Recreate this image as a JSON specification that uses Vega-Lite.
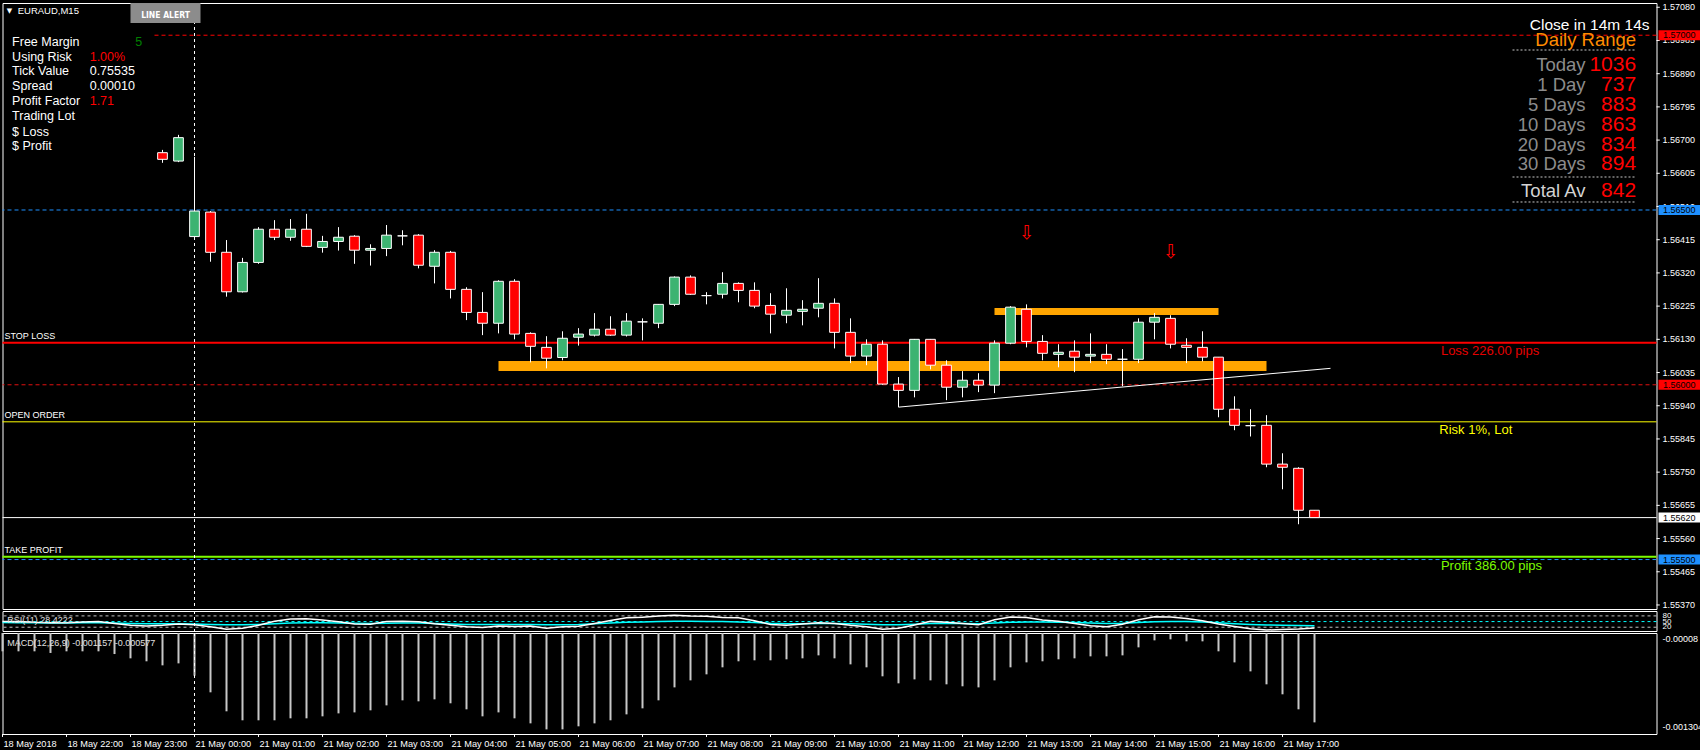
{
"$schema": "https://vega.github.io/schema/vega-lite/v6.json",
"background": "#000000",
"padding": {"left": -1.5, "top": 2, "right": 0, "bottom": 0},
"spacing": 2,
"bounds": "flush",
"config": {
 "view": {"stroke": "#FFFFFF", "strokeWidth": 1},
 "scale": {"continuousPadding": 0},
 "text": {"font": "Liberation Sans"}
},
"resolve": {"scale": {"y": "independent"}},
"datasets": {
 "candles": [
  {"k":-2,"o":1.56664,"h":1.56672,"l":1.56635,"c":1.56645},
  {"k":-1,"o":1.56640,"h":1.56715,"l":1.56637,"c":1.56707},
  {"k":0,"o":1.56424,"h":1.56652,"l":1.56417,"c":1.56497},
  {"k":1,"o":1.56494,"h":1.56497,"l":1.56352,"c":1.56379},
  {"k":2,"o":1.56379,"h":1.56414,"l":1.56252,"c":1.56266},
  {"k":3,"o":1.56266,"h":1.56363,"l":1.56264,"c":1.56350},
  {"k":4,"o":1.56350,"h":1.56451,"l":1.56346,"c":1.56445},
  {"k":5,"o":1.56445,"h":1.56471,"l":1.56414,"c":1.56422},
  {"k":6,"o":1.56422,"h":1.56474,"l":1.56412,"c":1.56445},
  {"k":7,"o":1.56445,"h":1.56489,"l":1.56394,"c":1.56396},
  {"k":8,"o":1.56393,"h":1.56426,"l":1.56378,"c":1.56410},
  {"k":9,"o":1.56410,"h":1.56451,"l":1.56384,"c":1.56422},
  {"k":10,"o":1.56425,"h":1.56428,"l":1.56346,"c":1.56385},
  {"k":11,"o":1.56385,"h":1.56402,"l":1.56341,"c":1.56390},
  {"k":12,"o":1.56390,"h":1.56457,"l":1.56368,"c":1.56428},
  {"k":13,"o":1.56426,"h":1.56442,"l":1.56399,"c":1.56426},
  {"k":14,"o":1.56428,"h":1.56431,"l":1.56333,"c":1.56342},
  {"k":15,"o":1.56339,"h":1.56385,"l":1.56290,"c":1.56379},
  {"k":16,"o":1.56379,"h":1.56383,"l":1.56247,"c":1.56273},
  {"k":17,"o":1.56273,"h":1.56279,"l":1.56185,"c":1.56207},
  {"k":18,"o":1.56207,"h":1.56265,"l":1.56142,"c":1.56176},
  {"k":19,"o":1.56176,"h":1.56299,"l":1.56147,"c":1.56296},
  {"k":20,"o":1.56296,"h":1.56302,"l":1.56130,"c":1.56145},
  {"k":21,"o":1.56147,"h":1.56150,"l":1.56064,"c":1.56110},
  {"k":22,"o":1.56107,"h":1.56139,"l":1.56047,"c":1.56076},
  {"k":23,"o":1.56078,"h":1.56153,"l":1.56070,"c":1.56133},
  {"k":24,"o":1.56136,"h":1.56162,"l":1.56112,"c":1.56145},
  {"k":25,"o":1.56142,"h":1.56205,"l":1.56138,"c":1.56159},
  {"k":26,"o":1.56159,"h":1.56196,"l":1.56140,"c":1.56142},
  {"k":27,"o":1.56142,"h":1.56205,"l":1.56138,"c":1.56182},
  {"k":28,"o":1.56180,"h":1.56190,"l":1.56127,"c":1.56180},
  {"k":29,"o":1.56176,"h":1.56231,"l":1.56162,"c":1.56230},
  {"k":30,"o":1.56230,"h":1.56310,"l":1.56225,"c":1.56308},
  {"k":31,"o":1.56308,"h":1.56313,"l":1.56257,"c":1.56259},
  {"k":32,"o":1.56255,"h":1.56265,"l":1.56230,"c":1.56255},
  {"k":33,"o":1.56259,"h":1.56322,"l":1.56247,"c":1.56290},
  {"k":34,"o":1.56290,"h":1.56293,"l":1.56236,"c":1.56270},
  {"k":35,"o":1.56270,"h":1.56293,"l":1.56219,"c":1.56225},
  {"k":36,"o":1.56227,"h":1.56262,"l":1.56147,"c":1.56202},
  {"k":37,"o":1.56199,"h":1.56276,"l":1.56176,"c":1.56213},
  {"k":38,"o":1.56210,"h":1.56242,"l":1.56170,"c":1.56216},
  {"k":39,"o":1.56219,"h":1.56305,"l":1.56193,"c":1.56233},
  {"k":40,"o":1.56233,"h":1.56247,"l":1.56104,"c":1.56150},
  {"k":41,"o":1.56150,"h":1.56190,"l":1.56062,"c":1.56082},
  {"k":42,"o":1.56082,"h":1.56130,"l":1.56056,"c":1.56116},
  {"k":43,"o":1.56116,"h":1.56127,"l":1.56000,"c":1.56002},
  {"k":44,"o":1.56002,"h":1.56022,"l":1.55936,"c":1.55984},
  {"k":45,"o":1.55984,"h":1.56131,"l":1.55964,"c":1.56130},
  {"k":46,"o":1.56130,"h":1.56131,"l":1.56044,"c":1.56056},
  {"k":47,"o":1.56056,"h":1.56070,"l":1.55956,"c":1.55993},
  {"k":48,"o":1.55993,"h":1.56039,"l":1.55964,"c":1.56013},
  {"k":49,"o":1.56013,"h":1.56033,"l":1.55979,"c":1.55999},
  {"k":50,"o":1.55999,"h":1.56127,"l":1.55976,"c":1.56119},
  {"k":51,"o":1.56119,"h":1.56225,"l":1.56116,"c":1.56222},
  {"k":52,"o":1.56216,"h":1.56230,"l":1.56107,"c":1.56124},
  {"k":53,"o":1.56124,"h":1.56142,"l":1.56070,"c":1.56090},
  {"k":54,"o":1.56087,"h":1.56116,"l":1.56050,"c":1.56093},
  {"k":55,"o":1.56096,"h":1.56127,"l":1.56036,"c":1.56079},
  {"k":56,"o":1.56082,"h":1.56147,"l":1.56062,"c":1.56087},
  {"k":57,"o":1.56087,"h":1.56116,"l":1.56059,"c":1.56073},
  {"k":58,"o":1.56073,"h":1.56102,"l":1.55996,"c":1.56073},
  {"k":59,"o":1.56073,"h":1.56190,"l":1.56062,"c":1.56179},
  {"k":60,"o":1.56179,"h":1.56205,"l":1.56130,"c":1.56193},
  {"k":61,"o":1.56190,"h":1.56199,"l":1.56104,"c":1.56116},
  {"k":62,"o":1.56113,"h":1.56133,"l":1.56062,"c":1.56107},
  {"k":63,"o":1.56107,"h":1.56153,"l":1.56067,"c":1.56079},
  {"k":64,"o":1.56079,"h":1.56079,"l":1.55907,"c":1.55930},
  {"k":65,"o":1.55930,"h":1.55967,"l":1.55870,"c":1.55884},
  {"k":66,"o":1.55883,"h":1.55930,"l":1.55852,"c":1.55883},
  {"k":67,"o":1.55884,"h":1.55913,"l":1.55764,"c":1.55773},
  {"k":68,"o":1.55773,"h":1.55804,"l":1.55701,"c":1.55764},
  {"k":69,"o":1.55761,"h":1.55764,"l":1.55601,"c":1.55641},
  {"k":70,"o":1.55641,"h":1.55641,"l":1.55620,"c":1.55620}
 ],
 "levels": [
  {"name":"alert","price":1.57},
  {"name":"blue","price":1.565},
  {"name":"stop","price":1.5612,"label":"STOP LOSS"},
  {"name":"round","price":1.56},
  {"name":"open","price":1.55894,"label":"OPEN ORDER"},
  {"name":"bid","price":1.5562},
  {"name":"take","price":1.55508,"label":"TAKE PROFIT"},
  {"name":"blue2","price":1.555}
 ],
 "priceTicks": [
  {"price":1.5708},{"price":1.56985},{"price":1.5689},{"price":1.56795},{"price":1.567},{"price":1.56605},{"price":1.5651},
  {"price":1.56415},{"price":1.5632},{"price":1.56225},{"price":1.5613},{"price":1.56035},{"price":1.5594},{"price":1.55845},
  {"price":1.5575},{"price":1.55655},{"price":1.5556},{"price":1.55465},{"price":1.5537}
 ],
 "zones": [
  {"k":19,"k2":67,"p":1.560681,"p2":1.560394},
  {"k":50,"k2":64,"p":1.562197,"p2":1.561996}
 ],
 "trend": [{"k":44,"p":1.55936},{"k":71,"p":1.56047}],
 "fractals": [{"k":52,"p":1.56434},{"k":61,"p":1.56381}],
 "sep": [{"k":0}],
 "button": [{"k":-4,"k2":0.375,"p":1.570922,"p2":1.57035,"pm":1.570577,"km":-1.8125,"label":"LINE ALERT"}],
 "title": [{"text":"EURAUD,M15","p":1.5707}],
 "info": [
  {"label":"Free Margin","value":"5","p":1.569813},
  {"label":"Using Risk","value":"1.00%","p":1.569384},
  {"label":"Tick Value","value":"0.75535","p":1.568967},
  {"label":"Spread","value":"0.00010","p":1.568546},
  {"label":"Profit Factor","value":"1.71","p":1.568109},
  {"label":"Trading Lot","value":"","p":1.56768},
  {"label":"$ Loss","value":"","p":1.567239},
  {"label":"$ Profit","value":"","p":1.566822}
 ],
 "range": [
  {"label":"Today","value":"1036","p":1.569147},
  {"label":"1 Day","value":"737","p":1.568575},
  {"label":"5 Days","value":"883","p":1.568003},
  {"label":"10 Days","value":"863","p":1.567431},
  {"label":"20 Days","value":"834","p":1.566859},
  {"label":"30 Days","value":"894","p":1.566307},
  {"label":"Total Av","value":"842","p":1.565543}
 ],
 "headers": [{"text":"Close in 14m 14s","p":1.570291},{"text":"Daily Range","p":1.569876}],
 "rangeLines": [{"p":1.569577},{"p":1.565944},{"p":1.565229}],
 "notes": [{"text":"Loss 226.00 pips","p":1.560967},{"text":"Risk 1%, Lot","p":1.558708},{"text":"Profit 386.00 pips","p":1.554827}],
 "rsiLevels": [{"level":80},{"level":50},{"level":20}],
 "rsi": [
  {"k":-12,"fast":50,"slow":45},{"k":-11,"fast":50,"slow":44},{"k":-10,"fast":46,"slow":44},{"k":-9,"fast":44,"slow":43},
  {"k":-8,"fast":44,"slow":43},{"k":-7,"fast":48,"slow":44},{"k":-6,"fast":50,"slow":44},{"k":-5,"fast":40,"slow":42},
  {"k":-4,"fast":30,"slow":40},{"k":-3,"fast":26,"slow":38},{"k":-2,"fast":30,"slow":38},{"k":-1,"fast":37,"slow":38},
  {"k":0,"fast":33,"slow":37},{"k":1,"fast":23,"slow":35},{"k":2,"fast":9,"slow":33},{"k":3,"fast":14,"slow":33},
  {"k":4,"fast":30,"slow":35},{"k":5,"fast":52,"slow":38},{"k":6,"fast":64,"slow":42},{"k":7,"fast":65,"slow":44},
  {"k":8,"fast":58,"slow":44},{"k":9,"fast":49,"slow":43},{"k":10,"fast":37,"slow":41},{"k":11,"fast":36,"slow":40},
  {"k":12,"fast":50,"slow":41},{"k":13,"fast":52,"slow":42},{"k":14,"fast":49,"slow":42},{"k":15,"fast":38,"slow":40},
  {"k":16,"fast":30,"slow":37},{"k":17,"fast":23,"slow":35},{"k":18,"fast":18,"slow":34},{"k":19,"fast":26,"slow":35},
  {"k":20,"fast":24,"slow":35},{"k":21,"fast":26,"slow":35},{"k":22,"fast":14,"slow":33},{"k":23,"fast":22,"slow":33},
  {"k":24,"fast":25,"slow":35},{"k":25,"fast":40,"slow":39},{"k":26,"fast":56,"slow":43},{"k":27,"fast":70,"slow":46},
  {"k":28,"fast":73,"slow":48},{"k":29,"fast":80,"slow":50},{"k":30,"fast":84,"slow":52},{"k":31,"fast":79,"slow":52},
  {"k":32,"fast":78,"slow":51},{"k":33,"fast":72,"slow":50},{"k":34,"fast":70,"slow":48},{"k":35,"fast":54,"slow":45},
  {"k":36,"fast":34,"slow":41},{"k":37,"fast":30,"slow":39},{"k":38,"fast":37,"slow":39},{"k":39,"fast":44,"slow":40},
  {"k":40,"fast":40,"slow":40},{"k":41,"fast":30,"slow":38},{"k":42,"fast":23,"slow":36},{"k":43,"fast":9,"slow":33},
  {"k":44,"fast":14,"slow":33},{"k":45,"fast":32,"slow":36},{"k":46,"fast":51,"slow":40},{"k":47,"fast":47,"slow":41},
  {"k":48,"fast":40,"slow":40},{"k":49,"fast":33,"slow":39},{"k":50,"fast":60,"slow":42},{"k":51,"fast":74,"slow":46},
  {"k":52,"fast":72,"slow":48},{"k":53,"fast":58,"slow":48},{"k":54,"fast":52,"slow":47},{"k":55,"fast":40,"slow":45},
  {"k":56,"fast":28,"slow":42},{"k":57,"fast":23,"slow":40},{"k":58,"fast":36,"slow":41},{"k":59,"fast":60,"slow":45},
  {"k":60,"fast":75,"slow":49},{"k":61,"fast":74,"slow":50},{"k":62,"fast":66,"slow":50},{"k":63,"fast":54,"slow":48},
  {"k":64,"fast":37,"slow":44},{"k":65,"fast":24,"slow":39},{"k":66,"fast":12,"slow":35},{"k":67,"fast":5,"slow":32},
  {"k":68,"fast":8,"slow":30},{"k":69,"fast":10,"slow":29},{"k":70,"fast":16,"slow":28}
 ],
 "macd": [
  {"k":-12,"v":-0.000302},{"k":-11,"v":-0.000302},{"k":-10,"v":-0.000302},{"k":-9,"v":-0.000322},
  {"k":-8,"v":-0.000302},{"k":-7,"v":-0.000302},{"k":-6,"v":-0.000302},{"k":-5,"v":-0.000335},
  {"k":-4,"v":-0.000387},{"k":-3,"v":-0.000423},{"k":-2,"v":-0.000472},{"k":-1,"v":-0.000448},
  {"k":0,"v":-0.000597},{"k":1,"v":-0.000799},{"k":2,"v":-0.001029},{"k":3,"v":-0.001138},
  {"k":4,"v":-0.001138},{"k":5,"v":-0.001138},{"k":6,"v":-0.001114},{"k":7,"v":-0.001114},
  {"k":8,"v":-0.00109},{"k":9,"v":-0.001054},{"k":10,"v":-0.001042},{"k":11,"v":-0.001017},
  {"k":12,"v":-0.000957},{"k":13,"v":-0.000896},{"k":14,"v":-0.000908},{"k":15,"v":-0.000884},
  {"k":16,"v":-0.000932},{"k":17,"v":-0.001005},{"k":18,"v":-0.00109},{"k":19,"v":-0.001042},
  {"k":20,"v":-0.001114},{"k":21,"v":-0.001175},{"k":22,"v":-0.001248},{"k":23,"v":-0.001248},
  {"k":24,"v":-0.001211},{"k":25,"v":-0.001175},{"k":26,"v":-0.001138},{"k":27,"v":-0.001066},
  {"k":28,"v":-0.000993},{"k":29,"v":-0.000896},{"k":30,"v":-0.000739},{"k":31,"v":-0.000654},
  {"k":32,"v":-0.000581},{"k":33,"v":-0.000496},{"k":34,"v":-0.000423},{"k":35,"v":-0.000411},
  {"k":36,"v":-0.000411},{"k":37,"v":-0.000399},{"k":38,"v":-0.000387},{"k":39,"v":-0.000351},
  {"k":40,"v":-0.000387},{"k":41,"v":-0.00046},{"k":42,"v":-0.000496},{"k":43,"v":-0.000605},
  {"k":44,"v":-0.00069},{"k":45,"v":-0.000642},{"k":46,"v":-0.000654},{"k":47,"v":-0.000702},
  {"k":48,"v":-0.000726},{"k":49,"v":-0.000739},{"k":50,"v":-0.000654},{"k":51,"v":-0.000496},
  {"k":52,"v":-0.000436},{"k":53,"v":-0.000423},{"k":54,"v":-0.000399},{"k":55,"v":-0.000387},
  {"k":56,"v":-0.000363},{"k":57,"v":-0.000363},{"k":58,"v":-0.000351},{"k":59,"v":-0.000254},
  {"k":60,"v":-0.000169},{"k":61,"v":-0.000157},{"k":62,"v":-0.000181},{"k":63,"v":-0.000181},
  {"k":64,"v":-0.000302},{"k":65,"v":-0.000436},{"k":66,"v":-0.000545},{"k":67,"v":-0.000702},
  {"k":68,"v":-0.000823},{"k":69,"v":-0.001005},{"k":70,"v":-0.001163}
 ],
 "macdScale": [{"v":-0.00008,"label":"-0.00008","end":"top"},{"v":-0.001304,"label":"-0.001304","end":"bottom"}],
 "hours": [
  {"k":-12,"label":"18 May 2018"},{"k":-8,"label":"18 May 22:00"},{"k":-4,"label":"18 May 23:00"},
  {"k":0,"label":"21 May 00:00"},{"k":4,"label":"21 May 01:00"},{"k":8,"label":"21 May 02:00"},{"k":12,"label":"21 May 03:00"},
  {"k":16,"label":"21 May 04:00"},{"k":20,"label":"21 May 05:00"},{"k":24,"label":"21 May 06:00"},{"k":28,"label":"21 May 07:00"},
  {"k":32,"label":"21 May 08:00"},{"k":36,"label":"21 May 09:00"},{"k":40,"label":"21 May 10:00"},{"k":44,"label":"21 May 11:00"},
  {"k":48,"label":"21 May 12:00"},{"k":52,"label":"21 May 13:00"},{"k":56,"label":"21 May 14:00"},{"k":60,"label":"21 May 15:00"},
  {"k":64,"label":"21 May 16:00"},{"k":68,"label":"21 May 17:00"}
 ],
 "panelLabels": [{"panel":"rsi","text":"RSI(11) 28.4222","v":58},{"panel":"macd","text":"MACD(12,26,9) -0.001157 -0.000577","v":-0.000198}]
},
"vconcat": [
 {
  "width": 1654, "height": 606,
  "layer": [
   {"data": {"name": "levels"}, "transform": [{"filter": "datum.name == 'blue' || datum.name == 'blue2'"}],
    "mark": {"type": "rule", "color": "#1E90FF", "strokeDash": [4, 3]},
    "encoding": {"y": {"field": "price", "type": "quantitative", "scale": {"domain": [1.553585, 1.570922], "nice": false, "zero": false, "padding": 0}, "axis": null}}},
   {"data": {"name": "levels"}, "transform": [{"filter": "datum.name == 'alert'"}],
    "mark": {"type": "rule", "color": "#FF0000", "strokeDash": [4, 3]},
    "encoding": {"x": {"datum": -2.5, "type": "quantitative", "scale": {"domain": [-12, 91.375], "nice": false, "zero": false, "padding": 0}, "axis": null}, "x2": {"datum": 91.375},
      "y": {"field": "price", "type": "quantitative", "axis": null}}},
   {"data": {"name": "levels"}, "transform": [{"filter": "datum.name == 'round'"}],
    "mark": {"type": "rule", "color": "#E01010", "strokeDash": [4, 3]},
    "encoding": {"y": {"field": "price", "type": "quantitative", "axis": null}}},
   {"data": {"name": "levels"}, "transform": [{"filter": "datum.name == 'stop'"}],
    "mark": {"type": "rule", "color": "#FF0000", "strokeWidth": 2},
    "encoding": {"y": {"field": "price", "type": "quantitative", "axis": null}}},
   {"data": {"name": "levels"}, "transform": [{"filter": "datum.name == 'open'"}],
    "mark": {"type": "rule", "color": "#FFFF00", "strokeWidth": 1},
    "encoding": {"y": {"field": "price", "type": "quantitative", "axis": null}}},
   {"data": {"name": "levels"}, "transform": [{"filter": "datum.name == 'bid'"}],
    "mark": {"type": "rule", "color": "#FFFFFF", "strokeWidth": 1},
    "encoding": {"y": {"field": "price", "type": "quantitative", "axis": null}}},
   {"data": {"name": "levels"}, "transform": [{"filter": "datum.name == 'take'"}],
    "mark": {"type": "rule", "color": "#7CFC00", "strokeWidth": 2},
    "encoding": {"y": {"field": "price", "type": "quantitative", "axis": null}}},
   {"data": {"name": "zones"},
    "mark": {"type": "rect", "color": "#FFA500"},
    "encoding": {"x": {"field": "k", "type": "quantitative", "axis": null}, "x2": {"field": "k2"},
      "y": {"field": "p", "type": "quantitative", "axis": null}, "y2": {"field": "p2"}}},
   {"data": {"name": "sep"},
    "mark": {"type": "rule", "color": "#FFFFFF", "strokeDash": [3, 3]},
    "encoding": {"x": {"field": "k", "type": "quantitative", "axis": null}}},
   {"data": {"name": "candles"},
    "mark": {"type": "rule", "color": "#FFFFFF", "strokeWidth": 1},
    "encoding": {"x": {"field": "k", "type": "quantitative", "axis": null},
      "y": {"field": "l", "type": "quantitative", "axis": null}, "y2": {"field": "h"}}},
   {"data": {"name": "candles"},
    "mark": {"type": "bar", "width": 9.7, "stroke": "#FFFFFF", "strokeWidth": 1},
    "encoding": {"x": {"field": "k", "type": "quantitative", "scale": {"padding": 0}, "axis": null},
      "y": {"field": "o", "type": "quantitative", "axis": null}, "y2": {"field": "c"},
      "fill": {"condition": [{"test": "datum.c > datum.o", "value": "#3CB371"}, {"test": "datum.c < datum.o", "value": "#FF0000"}], "value": "#FFFFFF"}}},
   {"data": {"name": "trend"},
    "mark": {"type": "line", "color": "#FFFFFF", "strokeWidth": 1},
    "encoding": {"x": {"field": "k", "type": "quantitative", "axis": null},
      "y": {"field": "p", "type": "quantitative", "axis": null}}},
   {"data": {"name": "fractals"},
    "mark": {"type": "text", "text": "⇩", "font": "DejaVu Sans", "fontSize": 19, "color": "#FF0000", "baseline": "middle", "align": "center"},
    "encoding": {"x": {"field": "k", "type": "quantitative", "axis": null},
      "y": {"field": "p", "type": "quantitative", "axis": null}}},
   {"data": {"name": "button"},
    "mark": {"type": "rect", "color": "#8C8C8C"},
    "encoding": {"x": {"field": "k", "type": "quantitative", "axis": null}, "x2": {"field": "k2"},
      "y": {"field": "p", "type": "quantitative", "axis": null}, "y2": {"field": "p2"}}},
   {"data": {"name": "button"},
    "mark": {"type": "text", "font": "DejaVu Sans Condensed", "fontWeight": "bold", "fontSize": 8.5, "color": "#FFFFFF", "align": "center", "baseline": "middle"},
    "encoding": {"x": {"field": "km", "type": "quantitative", "axis": null},
      "y": {"field": "pm", "type": "quantitative", "axis": null}, "text": {"field": "label"}}},
   {"data": {"name": "title"},
    "mark": {"type": "text", "fontSize": 9.5, "color": "#FFFFFF", "align": "left", "baseline": "middle"},
    "encoding": {"x": {"datum": -11.05, "type": "quantitative", "axis": null},
      "y": {"field": "p", "type": "quantitative", "axis": null}, "text": {"field": "text"}}},
   {"data": {"name": "title"},
    "mark": {"type": "text", "text": "▼", "font": "DejaVu Sans", "fontSize": 7, "color": "#FFFFFF", "align": "center", "baseline": "middle"},
    "encoding": {"x": {"datum": -11.56, "type": "quantitative", "axis": null},
      "y": {"field": "p", "type": "quantitative", "axis": null}}},
   {"data": {"name": "info"},
    "mark": {"type": "text", "fontSize": 12.5, "color": "#FFFFFF", "align": "left", "baseline": "middle"},
    "encoding": {"x": {"datum": -11.4, "type": "quantitative", "axis": null},
      "y": {"field": "p", "type": "quantitative", "axis": null}, "text": {"field": "label"}}},
   {"data": {"name": "info"}, "transform": [{"filter": "datum.label == 'Tick Value' || datum.label == 'Spread'"}],
    "mark": {"type": "text", "fontSize": 12.5, "color": "#FFFFFF", "align": "left", "baseline": "middle"},
    "encoding": {"x": {"datum": -6.55, "type": "quantitative", "axis": null},
      "y": {"field": "p", "type": "quantitative", "axis": null}, "text": {"field": "value"}}},
   {"data": {"name": "info"}, "transform": [{"filter": "datum.label == 'Using Risk' || datum.label == 'Profit Factor'"}],
    "mark": {"type": "text", "fontSize": 12.5, "color": "#FF0000", "align": "left", "baseline": "middle"},
    "encoding": {"x": {"datum": -6.55, "type": "quantitative", "axis": null},
      "y": {"field": "p", "type": "quantitative", "axis": null}, "text": {"field": "value"}}},
   {"data": {"name": "info"}, "transform": [{"filter": "datum.label == 'Free Margin'"}],
    "mark": {"type": "text", "fontSize": 12.5, "color": "#008000", "align": "left", "baseline": "middle"},
    "encoding": {"x": {"datum": -3.7, "type": "quantitative", "axis": null},
      "y": {"field": "p", "type": "quantitative", "axis": null}, "text": {"field": "value"}}},
   {"data": {"name": "headers"}, "transform": [{"filter": "datum.text == 'Close in 14m 14s'"}],
    "mark": {"type": "text", "fontSize": 15.5, "color": "#FFFFFF", "align": "right", "baseline": "middle"},
    "encoding": {"x": {"datum": 90.94, "type": "quantitative", "axis": null},
      "y": {"field": "p", "type": "quantitative", "axis": null}, "text": {"field": "text"}}},
   {"data": {"name": "headers"}, "transform": [{"filter": "datum.text == 'Daily Range'"}],
    "mark": {"type": "text", "fontSize": 18.5, "color": "#FF8C00", "align": "right", "baseline": "middle"},
    "encoding": {"x": {"datum": 90.1, "type": "quantitative", "axis": null},
      "y": {"field": "p", "type": "quantitative", "axis": null}, "text": {"field": "text"}}},
   {"data": {"name": "rangeLines"},
    "mark": {"type": "rule", "color": "#C8C8C8", "strokeDash": [2, 2]},
    "encoding": {"x": {"datum": 82.375, "type": "quantitative", "axis": null}, "x2": {"datum": 90.1},
      "y": {"field": "p", "type": "quantitative", "axis": null}}},
   {"data": {"name": "range"}, "transform": [{"filter": "datum.label != 'Total Av'"}],
    "mark": {"type": "text", "fontSize": 18.5, "color": "#8C8C8C", "align": "right", "baseline": "middle"},
    "encoding": {"x": {"datum": 86.94, "type": "quantitative", "axis": null},
      "y": {"field": "p", "type": "quantitative", "axis": null}, "text": {"field": "label"}}},
   {"data": {"name": "range"}, "transform": [{"filter": "datum.label == 'Total Av'"}],
    "mark": {"type": "text", "fontSize": 18.5, "color": "#D3D3D3", "align": "right", "baseline": "middle"},
    "encoding": {"x": {"datum": 86.94, "type": "quantitative", "axis": null},
      "y": {"field": "p", "type": "quantitative", "axis": null}, "text": {"field": "label"}}},
   {"data": {"name": "range"},
    "mark": {"type": "text", "fontSize": 21, "color": "#FF0000", "align": "right", "baseline": "middle"},
    "encoding": {"x": {"datum": 90.1, "type": "quantitative", "axis": null},
      "y": {"field": "p", "type": "quantitative", "axis": null}, "text": {"field": "value"}}},
   {"data": {"name": "levels"}, "transform": [{"filter": "isValid(datum.label)"}],
    "mark": {"type": "text", "fontSize": 9, "color": "#FFFFFF", "align": "left", "baseline": "bottom", "dy": -2},
    "encoding": {"x": {"datum": -11.875, "type": "quantitative", "axis": null},
      "y": {"field": "price", "type": "quantitative", "axis": null}, "text": {"field": "label"}}},
   {"data": {"name": "notes"}, "transform": [{"filter": "datum.text == 'Loss 226.00 pips'"}],
    "mark": {"type": "text", "fontSize": 13, "color": "#E60000", "align": "left", "baseline": "middle"},
    "encoding": {"x": {"datum": 77.9, "type": "quantitative", "axis": null},
      "y": {"field": "p", "type": "quantitative", "axis": null}, "text": {"field": "text"}}},
   {"data": {"name": "notes"}, "transform": [{"filter": "datum.text == 'Risk 1%, Lot'"}],
    "mark": {"type": "text", "fontSize": 13, "color": "#FFFF00", "align": "left", "baseline": "middle"},
    "encoding": {"x": {"datum": 77.8, "type": "quantitative", "axis": null},
      "y": {"field": "p", "type": "quantitative", "axis": null}, "text": {"field": "text"}}},
   {"data": {"name": "notes"}, "transform": [{"filter": "datum.text == 'Profit 386.00 pips'"}],
    "mark": {"type": "text", "fontSize": 13, "color": "#7CFC00", "align": "left", "baseline": "middle"},
    "encoding": {"x": {"datum": 77.9, "type": "quantitative", "axis": null},
      "y": {"field": "p", "type": "quantitative", "axis": null}, "text": {"field": "text"}}},
   {"data": {"name": "priceTicks"},
    "mark": {"type": "rule", "color": "#FFFFFF"},
    "encoding": {"x": {"datum": 91.375, "type": "quantitative", "axis": null}, "x2": {"datum": 91.58},
      "y": {"field": "price", "type": "quantitative", "axis": null}}},
   {"data": {"name": "priceTicks"},
    "mark": {"type": "text", "fontSize": 9, "color": "#FFFFFF", "align": "left", "baseline": "middle", "dx": 6},
    "encoding": {"x": {"datum": 91.375, "type": "quantitative", "axis": null},
      "y": {"field": "price", "type": "quantitative", "axis": null}, "text": {"field": "price", "type": "quantitative", "format": ".5f"}}},
   {"data": {"name": "levels"}, "transform": [{"filter": "datum.name == 'alert' || datum.name == 'blue' || datum.name == 'round' || datum.name == 'bid' || datum.name == 'blue2'"}],
    "mark": {"type": "rect", "yOffset": -5, "y2Offset": 5},
    "encoding": {"x": {"datum": 91.5, "type": "quantitative", "axis": null}, "x2": {"datum": 94.1},
      "y": {"field": "price", "type": "quantitative", "axis": null}, "y2": {"field": "price"},
      "color": {"field": "name", "type": "nominal", "legend": null, "scale": {"domain": ["alert", "blue", "round", "bid", "blue2"], "range": ["#FF0000", "#1E90FF", "#FF0000", "#FFFFFF", "#1E90FF"]}}}},
   {"data": {"name": "levels"}, "transform": [{"filter": "datum.name == 'alert' || datum.name == 'blue' || datum.name == 'round' || datum.name == 'bid' || datum.name == 'blue2'"}],
    "mark": {"type": "text", "fontSize": 9, "color": "#000000", "align": "center", "baseline": "middle"},
    "encoding": {"x": {"datum": 92.8, "type": "quantitative", "axis": null},
      "y": {"field": "price", "type": "quantitative", "axis": null}, "text": {"field": "price", "type": "quantitative", "format": ".5f"}}}
  ]
 },
 {
  "width": 1654, "height": 20,
  "layer": [
   {"data": {"name": "rsiLevels"}, "transform": [{"filter": "datum.level != 50"}],
    "mark": {"type": "rule", "color": "#C0C0C0", "strokeDash": [3, 3]},
    "encoding": {"y": {"field": "level", "type": "quantitative", "scale": {"domain": [0, 106], "nice": false, "zero": false}, "axis": null}}},
   {"data": {"name": "rsiLevels"}, "transform": [{"filter": "datum.level == 50"}],
    "mark": {"type": "rule", "color": "#00FFFF", "strokeDash": [3, 3]},
    "encoding": {"y": {"field": "level", "type": "quantitative", "axis": null}}},
   {"data": {"name": "rsi"},
    "mark": {"type": "line", "color": "#00FFFF", "strokeWidth": 1.5},
    "encoding": {"x": {"field": "k", "type": "quantitative", "scale": {"domain": [-12, 91.375], "nice": false, "zero": false, "padding": 0}, "axis": null},
      "y": {"field": "slow", "type": "quantitative", "axis": null}}},
   {"data": {"name": "rsi"},
    "mark": {"type": "line", "color": "#FFFFFF", "strokeWidth": 1.5},
    "encoding": {"x": {"field": "k", "type": "quantitative", "axis": null},
      "y": {"field": "fast", "type": "quantitative", "axis": null}}},
   {"data": {"name": "sep"},
    "mark": {"type": "rule", "color": "#FFFFFF", "strokeDash": [3, 3]},
    "encoding": {"x": {"field": "k", "type": "quantitative", "axis": null}}},
   {"data": {"name": "panelLabels"}, "transform": [{"filter": "datum.panel == 'rsi'"}],
    "mark": {"type": "text", "fontSize": 9, "color": "#E0E0E0", "align": "left", "baseline": "middle"},
    "encoding": {"x": {"datum": -11.7, "type": "quantitative", "axis": null},
      "y": {"field": "v", "type": "quantitative", "axis": null}, "text": {"field": "text"}}},
   {"data": {"name": "rsiLevels"},
    "mark": {"type": "text", "fontSize": 8, "color": "#FFFFFF", "align": "left", "baseline": "middle", "dx": 6},
    "encoding": {"x": {"datum": 91.375, "type": "quantitative", "axis": null},
      "y": {"field": "level", "type": "quantitative", "axis": null}, "text": {"field": "level", "type": "quantitative"}}}
  ]
 },
 {
  "width": 1654, "height": 101,
  "layer": [
   {"data": {"name": "macd"},
    "mark": {"type": "rule", "color": "#C8C8C8", "strokeWidth": 2},
    "encoding": {"x": {"field": "k", "type": "quantitative", "scale": {"domain": [-12, 91.375], "nice": false, "zero": false, "padding": 0}, "axis": null},
      "y": {"field": "v", "type": "quantitative", "scale": {"domain": [-0.001304, -0.00008], "nice": false, "zero": false}, "axis": null},
      "y2": {"datum": -0.00008}}},
   {"data": {"name": "sep"},
    "mark": {"type": "rule", "color": "#FFFFFF", "strokeDash": [3, 3]},
    "encoding": {"x": {"field": "k", "type": "quantitative", "axis": null}}},
   {"data": {"name": "panelLabels"}, "transform": [{"filter": "datum.panel == 'macd'"}],
    "mark": {"type": "text", "fontSize": 9, "color": "#E0E0E0", "align": "left", "baseline": "middle"},
    "encoding": {"x": {"datum": -11.7, "type": "quantitative", "axis": null},
      "y": {"field": "v", "type": "quantitative", "axis": null}, "text": {"field": "text"}}},
   {"data": {"name": "macdScale"}, "transform": [{"filter": "datum.end == 'top'"}],
    "mark": {"type": "text", "fontSize": 9, "color": "#FFFFFF", "align": "left", "baseline": "top", "dx": 6, "dy": 2},
    "encoding": {"x": {"datum": 91.375, "type": "quantitative", "axis": null},
      "y": {"field": "v", "type": "quantitative", "axis": null}, "text": {"field": "label"}}},
   {"data": {"name": "macdScale"}, "transform": [{"filter": "datum.end == 'bottom'"}],
    "mark": {"type": "text", "fontSize": 9, "color": "#FFFFFF", "align": "left", "baseline": "bottom", "dx": 6, "dy": -2},
    "encoding": {"x": {"datum": 91.375, "type": "quantitative", "axis": null},
      "y": {"field": "v", "type": "quantitative", "axis": null}, "text": {"field": "label"}}},
   {"data": {"name": "hours"},
    "mark": {"type": "rule", "color": "#FFFFFF"},
    "encoding": {"x": {"field": "k", "type": "quantitative", "axis": null},
      "y": {"datum": -0.001304, "type": "quantitative", "axis": null}, "y2": {"datum": -0.00134}}},
   {"data": {"name": "hours"},
    "mark": {"type": "text", "fontSize": 9.2, "color": "#FFFFFF", "align": "left", "baseline": "middle", "dx": 1},
    "encoding": {"x": {"field": "k", "type": "quantitative", "axis": null},
      "y": {"datum": -0.001425, "type": "quantitative", "axis": null}, "text": {"field": "label"}}}
  ]
 }
]
}
